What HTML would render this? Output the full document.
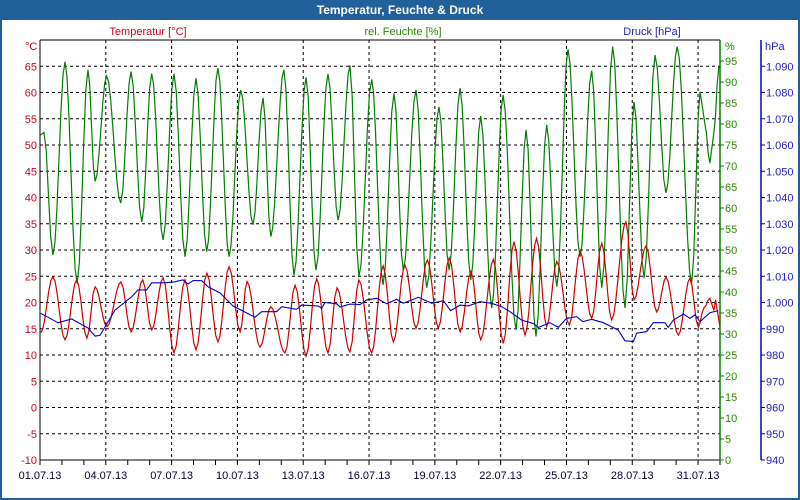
<!DOCTYPE html>
<html><head><meta charset="utf-8"><style>
html,body{margin:0;padding:0;background:#fff;}
svg{display:block;font-family:"Liberation Sans",Tahoma,sans-serif;font-size:11px;}
</style></head><body>
<svg id="chart" width="800" height="500" viewBox="0 0 800 500">
<rect x="0" y="0" width="800" height="500" fill="#fff" stroke="#21609a" stroke-width="4"/>
<rect x="0" y="0" width="800" height="20" fill="#21609a"/>
<text x="400" y="14" text-anchor="middle" fill="#fff" font-weight="bold" font-size="12">Temperatur, Feuchte &amp; Druck</text>
<text x="148" y="35" text-anchor="middle" fill="#d00020">Temperatur [°C]</text>
<text x="403" y="35" text-anchor="middle" fill="#2a8a00">rel. Feuchte [%]</text>
<text x="652" y="35" text-anchor="middle" fill="#2020c0">Druck [hPa]</text>
<text x="25" y="50" fill="#d00020">°C</text>
<text x="725" y="50" fill="#2a8a00">%</text>
<text x="765" y="50" fill="#2020c0">hPa</text>
<g id="grid"></g><g id="axes"></g><g id="series"></g>
</svg>
<script>
const dayLabels=["01.07.13","04.07.13","07.07.13","10.07.13","13.07.13","16.07.13","19.07.13","22.07.13","25.07.13","28.07.13","31.07.13"];
const tempTicks=[-10,-5,0,5,10,15,20,25,30,35,40,45,50,55,60,65];
const humTicks=[0,5,10,15,20,25,30,35,40,45,50,55,60,65,70,75,80,85,90,95];
const presTicks=[940,950,960,970,980,990,1000,1010,1020,1030,1040,1050,1060,1070,1080,1090];
const presTickLabels=["940","950","960","970","980","990","1.000","1.010","1.020","1.030","1.040","1.050","1.060","1.070","1.080","1.090"];
const tempDays=[0.03,0.59,1.14,1.67,2.14,2.51,3.05,3.69,4.15,4.68,5.09,5.61,6.11,6.61,7.11,7.61,8.11,8.62,9.12,9.44,10.03,10.52,11.17,11.63,12.13,12.61,13.13,13.54,14.13,14.54,15.12,15.64,16.11,16.64,17.14,17.66,18.16,18.66,19.15,19.65,20.09,20.67,21.12,21.61,22.11,22.64,23.1,23.56,24.13,24.62,25.15,25.61,26.06,26.71,27.08,27.63,28.11,28.54,29.1,29.63,30.01,30.27,30.54,30.72,30.8,31.0];
const tempVals=[14.2,24.9,12.9,24.3,13.2,23,15.4,23.9,14.4,24.3,14.8,24.7,10.4,24.3,11,25.6,12.5,26.8,14.4,24,11.5,19.2,10.4,23.3,9.8,24.5,10.4,22.8,10.6,24.3,10.4,27,12.5,27.1,15.1,28.1,15.1,28.5,14.4,25.9,12.9,28.2,12.2,31.6,13.8,32.2,15.4,27.8,15.7,29.7,17,31.3,16.7,35.4,20.5,30.8,18.2,24.8,13.8,24.6,15.3,19,20.8,18.5,20.5,15.3];
const humDays=[0.03,0.18,0.59,1.14,1.69,2.19,2.51,3.04,3.68,4.15,4.64,5.09,5.61,6.11,6.61,7.11,7.6,8.11,8.62,9.15,9.71,10.17,10.52,11.12,11.58,12.13,12.58,13.13,13.59,14.13,14.54,15.12,15.64,16.14,16.56,17.14,17.63,18.19,18.65,19.15,19.64,20.09,20.59,21.11,21.7,22.16,22.61,23.1,23.56,24.07,24.62,25.15,25.61,26.11,26.67,27.08,27.54,28.04,28.54,29.05,29.71,30.09,30.31,30.54,30.72,30.95];
const humVals=[77.4,78,48.8,94.8,42,92.9,66.3,91.4,61.2,92.5,56.7,92,52.4,92,48.4,90.9,49.6,93.3,48.4,88.1,56,86.2,53.2,92.9,44,91.1,45.2,91.9,57.1,94,43.6,90.6,41.7,87.3,45.2,88.1,41,84.1,45.2,88.6,42.9,81.9,36.2,86.9,31,78.6,29.4,79.8,41.3,97.8,48.4,92.7,41,98.4,36.2,85.3,43.3,96.4,63.6,98.4,42.1,87.7,80,70.7,78,93.6];
const presDays=[0.03,0.82,1.45,2.19,2.51,2.74,3.42,4.18,4.47,4.86,5.09,5.7,6.15,6.52,6.75,6.98,7.37,7.66,8.21,8.8,9.8,10.11,10.79,11.02,11.7,11.93,12.67,12.84,12.99,13.53,13.68,14.13,14.59,14.89,15.35,15.81,16.26,16.56,17.25,17.86,18.39,18.72,19.15,19.53,20.06,20.59,21.05,21.43,21.96,22.49,22.72,23.25,23.63,24.01,24.47,24.74,25.15,25.68,25.91,26.36,26.67,27.05,27.2,27.66,27.96,28.49,28.64,28.87,29.33,29.63,29.86,30.09,30.54,30.92];
const presVals=[995.9,992.3,993.7,990.3,987.2,987.5,997.1,1002.2,1004.8,1004.8,1007.5,1007.5,1007.9,1008.6,1007,1008.4,1008.3,1006,1003.6,998.7,994.4,996.5,996.5,998.4,997.4,999,998.7,997.8,1000,999.5,998.3,999.4,999.2,1001,1001.6,999.5,1001.2,999.7,1002,999.7,1000.7,996.9,999,998.7,1000.3,999.7,998.4,996.5,993.3,992,990.5,992.3,990.5,994,994.6,992.7,993.6,992.3,991.4,989.5,985.4,985.1,988.3,988.9,992.3,992.3,990.5,993.3,995.6,994,995.3,992.7,996.1,996.9];

const X0=40,X1=720,Y0=460,Y1=40;
const xOf=d=>X0+d*(X1-X0)/31;
const yTemp=v=>Y0-(v+10)*(Y0-Y1)/80;
const yHum=v=>Y0-v*(Y0-Y1)/100;
const yPres=v=>Y0-(v-940)*(Y0-Y1)/160;
const NS="http://www.w3.org/2000/svg";
function mk(tag,attrs,parent){const e=document.createElementNS(NS,tag);for(const k in attrs)e.setAttribute(k,attrs[k]);parent.appendChild(e);return e;}
const grid=document.getElementById('grid'),axes=document.getElementById('axes'),series=document.getElementById('series');

tempTicks.forEach(v=>{
  const y=yTemp(v);
  if(v>-10){const l=mk('line',{x1:X0,x2:X1,y1:y,y2:y,stroke:'#000','stroke-dasharray':'3,3'},grid);
  
  }
  const t=mk('text',{x:37,y:y+4,'text-anchor':'end',fill:'#d00020'},axes);t.textContent=v;
  
  
});
for(let d=3;d<31;d+=3){const l=mk('line',{x1:xOf(d),x2:xOf(d),y1:Y1,y2:Y0,stroke:'#000','stroke-dasharray':'3,3'},grid);
  
  }
for(let d=0;d<=31;d++){mk('line',{x1:xOf(d),x2:xOf(d),y1:Y0,y2:Y0+5,stroke:'#000'},axes);}
dayLabels.forEach((s,i)=>{const t=mk('text',{x:xOf(i*3),y:479,'text-anchor':'middle',fill:'#000033'},axes);t.textContent=s;
  
  });
mk('line',{x1:X0,x2:X1,y1:Y1,y2:Y1,stroke:'#000'},axes);
mk('line',{x1:X0,x2:X1,y1:Y0,y2:Y0,stroke:'#000'},axes);
mk('line',{x1:X0,x2:X0,y1:Y1,y2:Y0,stroke:'#000'},axes);
mk('line',{x1:X1,x2:X1,y1:Y1,y2:Y0,stroke:'#008000','stroke-width':1.5},axes);
mk('line',{x1:761,x2:761,y1:Y1,y2:Y0,stroke:'#0000d0','stroke-width':1.5},axes);
humTicks.forEach(v=>{const y=yHum(v);mk('line',{x1:X1,x2:X1+4,y1:y,y2:y,stroke:'#008000'},axes);
  const t=mk('text',{x:725,y:y+4,fill:'#2a8a00'},axes);t.textContent=v;
  
  });
presTicks.forEach((v,i)=>{const y=yPres(v);mk('line',{x1:761,x2:765,y1:y,y2:y,stroke:'#0000d0'},axes);
  const t=mk('text',{x:766,y:y+4,fill:'#2020c0'},axes);t.textContent=presTickLabels[i];
  
  });

function smoothPath(days,vals,yf){
  let d='M'+xOf(days[0]).toFixed(1)+','+yf(vals[0]).toFixed(1);
  for(let i=1;i<days.length;i++){
    const xa=xOf(days[i-1]),xb=xOf(days[i]),ya=yf(vals[i-1]),yb=yf(vals[i]);
    const n=Math.max(2,Math.round((xb-xa)/2));
    for(let k=1;k<=n;k++){const t=k/n;const s=(1-Math.cos(Math.PI*t))/2;
      d+=' L'+(xa+(xb-xa)*t).toFixed(1)+','+(ya+(yb-ya)*s).toFixed(1);}
  }
  return d;
}
function linePath(days,vals,yf){return days.map((dd,i)=>(i?'L':'M')+xOf(dd).toFixed(1)+','+yf(vals[i]).toFixed(1)).join(' ');}
const hp=mk('path',{d:smoothPath(humDays,humVals,yHum),fill:'none',stroke:'#008000','stroke-width':1.2},series);


const tp=mk('path',{d:smoothPath(tempDays,tempVals,yTemp),fill:'none',stroke:'#d00000','stroke-width':1.2},series);


const pp=mk('path',{d:linePath(presDays,presVals,yPres),fill:'none',stroke:'#0000d0','stroke-width':1.1},series);


</script>
</body></html>
